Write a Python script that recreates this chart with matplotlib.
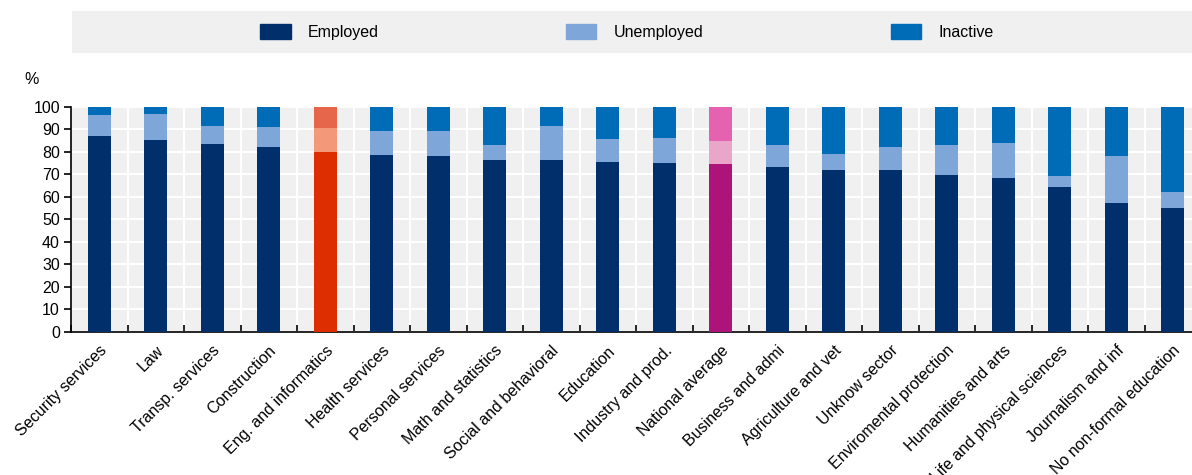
import matplotlib.pyplot as plt
import numpy as np
from matplotlib.patches import Rectangle

plt.rcParams['font.family'] = ['Liberation Sans', 'DejaVu Sans']

categories = ['Security services', 'Law', 'Transp. services', 'Construction',
              'Eng. and informatics', 'Health services', 'Personal services',
              'Math and statistics', 'Social and behavioral', 'Education',
              'Industry and prod.', 'National average', 'Business and admi',
              'Agriculture and vet', 'Unknow sector', 'Enviromental protection',
              'Humanities and arts', 'Life and physical sciences',
              'Journalism and inf', 'No non-formal education']

# cumulative tops read as employed, employed + unemployed (rest is inactive)
employed = [87.1, 85.3, 83.5, 82.2, 80.0, 78.6, 78.0, 76.4, 76.4, 75.5,
            75.2, 74.6, 73.0, 72.0, 72.0, 69.7, 68.4, 64.5, 57.2, 55.2]
emp_unemp = [96.4, 96.7, 91.5, 91.1, 90.7, 89.3, 89.3, 83.1, 91.5, 85.6,
             86.0, 84.9, 83.1, 78.8, 82.1, 83.1, 83.7, 69.3, 77.9, 62.2]

employed = np.array(employed)
unemployed = np.array(emp_unemp) - employed
inactive = 100 - np.array(emp_unemp)

base = ['#002F6C', '#7FA6D9', '#006BB6']
special = {'Eng. and informatics': ['#DC2E00', '#F4987A', '#E5664B'],
           'National average': ['#AC1479', '#EAA6C8', '#E462AF']}

cols = [[special.get(c, base)[k] for c in categories] for k in range(3)]

fig = plt.figure(figsize=(11.92, 4.75), dpi=100)
ax = fig.add_axes([71 / 1192, 1 - 331.7 / 475, 1130 / 1192, 225 / 475])
ax.set_facecolor('#F0F0F0')

x = np.arange(len(categories))
w = 0.41
ax.bar(x, employed, w, color=cols[0], label='Employed', zorder=3)
ax.bar(x, unemployed, w, bottom=employed, color=cols[1],
       label='Unemployed', zorder=3)
ax.bar(x, inactive, w, bottom=employed + unemployed, color=cols[2],
       label='Inactive', zorder=3)

ax.set_xlim(-0.5, len(categories) - 0.5)
ax.set_ylim(0, 100)
ax.set_yticks(range(0, 101, 10))
ax.set_xticks(x)
ax.set_xticks(np.arange(len(categories) + 1) - 0.5, minor=True)
ax.set_xticklabels(categories, rotation=45, ha='right', va='top',
                   rotation_mode='anchor', fontsize=11.5)
ax.tick_params(axis='x', which='major', length=0, pad=8)
ax.tick_params(axis='x', which='minor', direction='in', length=5, width=1.2)
ax.tick_params(axis='y', direction='out', length=5, width=1.2, labelsize=11.5,
               pad=3)

ax.grid(True, which='minor', axis='x', color='white', lw=1.5, zorder=1)
ax.grid(True, which='major', axis='y', color='white', lw=1.5, zorder=1)
ax.grid(False, which='major', axis='x')

for s in ['top', 'right']:
    ax.spines[s].set_visible(False)
ax.spines['left'].set_linewidth(1.2)
ax.spines['bottom'].set_linewidth(1.2)

fig.text(32 / 1192, 1 - 80 / 475, '%', fontsize=11.5, ha='center', va='center')

# legend strip
fig.patches.append(Rectangle((72 / 1192, 1 - 53 / 475), 1120 / 1192, 42 / 475,
                             transform=fig.transFigure, facecolor='#F0F0F0',
                             edgecolor='none', zorder=0))
handles = [Rectangle((0, 0), 1, 1, color=c) for c in base]
fig.legend(handles, ['Employed', 'Unemployed', 'Inactive'], loc='center',
           bbox_to_anchor=(627 / 1192, 1 - 32 / 475), ncol=3, frameon=False,
           fontsize=11.5, handlelength=1.9, handleheight=1.1,
           handletextpad=1.1, columnspacing=11.7)

fig.savefig('out.png', dpi=100)
